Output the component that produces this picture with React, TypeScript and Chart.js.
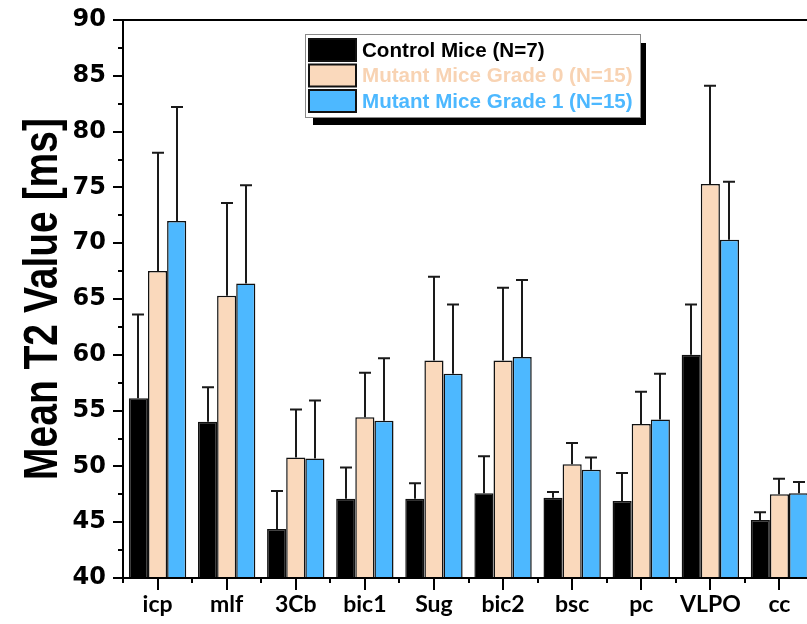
import { useEffect, useRef } from 'react';
import { Chart, registerables } from 'chart.js';
Chart.register(...registerables);

const categories = ['icp', 'mlf', '3Cb', 'bic1', 'Sug', 'bic2', 'bsc', 'pc', 'VLPO', 'cc'];
const seriesLabels = ['Control Mice (N=7)', 'Mutant Mice Grade 0 (N=15)', 'Mutant Mice Grade 1 (N=15)'];
const controlMean = [56.1, 54.0, 44.4, 47.1, 47.1, 47.6, 47.2, 46.9, 60.0, 45.2];
const controlSD = [7.5, 3.1, 3.4, 2.8, 1.4, 3.3, 0.5, 2.5, 4.5, 0.7];
const grade0Mean = [67.5, 65.3, 50.8, 54.4, 59.5, 59.5, 50.2, 53.8, 75.3, 47.5];
const grade0SD = [10.6, 8.3, 4.3, 4.0, 7.5, 6.5, 1.9, 2.9, 8.8, 1.4];
const grade1Mean = [72.0, 66.4, 50.7, 54.1, 58.3, 59.8, 49.7, 54.2, 70.3, 47.6];
const grade1SD = [10.2, 8.8, 5.2, 5.6, 6.2, 6.9, 1.1, 4.1, 5.2, 1.0];
const yTitle = 'Mean T2 Value [ms]';
const yMin = 40;
const yMax = 90;
const yStep = 5;

const fills = ['#000000', '#FAD9BC', '#4DB8FF'];
const textColors = ['#000000', '#F8D3B3', '#4DB8FF'];

const decorPlugin = {
  id: 'decor',
  afterDatasetsDraw(chart: any) {
    const ctx = chart.ctx;
    const ys = chart.scales.y;
    ctx.save();
    ctx.strokeStyle = '#1a1a1a';
    ctx.lineWidth = 2;
    chart.data.datasets.forEach((ds: any, i: number) => {
      const meta = chart.getDatasetMeta(i);
      meta.data.forEach((bar: any, j: number) => {
        const top = ys.getPixelForValue(ds.data[j] + ds.errors[j]);
        const x = Math.round(bar.x);
        ctx.beginPath();
        ctx.moveTo(x, bar.y);
        ctx.lineTo(x, top);
        ctx.moveTo(x - 6, top);
        ctx.lineTo(x + 6, top);
        ctx.stroke();
      });
    });
    ctx.restore();
  },
  afterDraw(chart: any) {
    const ctx = chart.ctx;
    const { left, right, top, bottom } = chart.chartArea;
    const xs = chart.scales.x;
    const ys = chart.scales.y;
    ctx.save();
    ctx.strokeStyle = '#000';
    ctx.lineWidth = 2;
    // frame
    ctx.beginPath();
    ctx.moveTo(left, top);
    ctx.lineTo(right, top);
    ctx.lineTo(right, bottom);
    ctx.lineTo(left, bottom);
    ctx.closePath();
    ctx.stroke();
    // y ticks
    ctx.beginPath();
    for (let v = yMin; v <= yMax + 0.001; v += yStep / 2) {
      const y = Math.round(ys.getPixelForValue(v));
      const major = Math.abs(v / yStep - Math.round(v / yStep)) < 0.001;
      ctx.moveTo(left, y);
      ctx.lineTo(left - (major ? 10 : 5), y);
    }
    // x ticks
    const n = categories.length;
    const cw = (right - left) / n;
    for (let i = 0; i < n; i++) {
      const x = Math.round(xs.getPixelForValue(i));
      ctx.moveTo(x, bottom);
      ctx.lineTo(x, bottom + 12);
    }
    for (let k = 0; k <= n; k++) {
      const x = Math.round(left + k * cw);
      ctx.moveTo(x, bottom);
      ctx.lineTo(x, bottom + 5);
    }
    ctx.stroke();

    // y title
    ctx.save();
    ctx.translate(57, (top + bottom) / 2);
    ctx.scale(1.22, 1);
    ctx.rotate(-Math.PI / 2);
    ctx.fillStyle = '#000';
    ctx.font = 'bold 39px "Liberation Sans", Arial, sans-serif';
    ctx.textAlign = 'center';
    ctx.textBaseline = 'alphabetic';
    ctx.fillText(yTitle, 0, 0);
    ctx.restore();

    // legend
    const bx = 305, by = 34, bw = 335, bh = 83;
    ctx.fillStyle = '#000';
    ctx.fillRect(bx + 8, by + 9, bw - 2, bh - 1);
    ctx.fillStyle = '#fff';
    ctx.fillRect(bx, by, bw, bh);
    ctx.strokeStyle = '#8a8a8a';
    ctx.lineWidth = 1;
    ctx.strokeRect(bx + 0.5, by + 0.5, bw, bh);
    ctx.font = 'bold 20.6px "Liberation Sans", Arial, sans-serif';
    ctx.textBaseline = 'middle';
    ctx.textAlign = 'left';
    chart.data.datasets.forEach((ds: any, i: number) => {
      const ry = by + 5 + i * 25.5;
      ctx.fillStyle = ds.backgroundColor;
      ctx.fillRect(bx + 4, ry, 47, 22);
      ctx.strokeStyle = '#111';
      ctx.lineWidth = 2;
      ctx.strokeRect(bx + 4, ry, 47, 22);
      ctx.fillStyle = textColors[i];
      ctx.fillText(ds.label, bx + 57, ry + 12);
    });
    ctx.restore();
  },
};

export default function App() {
  const ref = useRef<HTMLCanvasElement>(null);
  useEffect(() => {
    const means = [controlMean, grade0Mean, grade1Mean];
    const sds = [controlSD, grade0SD, grade1SD];
    const chart = new Chart(ref.current as HTMLCanvasElement, {
      type: 'bar',
      data: {
        labels: categories,
        datasets: means.map((m, i) => ({
          label: seriesLabels[i],
          data: m,
          errors: sds[i],
          backgroundColor: fills[i],
          borderColor: '#111111',
          borderWidth: 1.5,
          borderSkipped: false,
          categoryPercentage: 0.83,
          barPercentage: 1.0,
        })) as any,
      },
      options: {
        responsive: false,
        animation: false,
        devicePixelRatio: 1,
        layout: { padding: { top: 20, right: 16, left: 0, bottom: 0 } },
        plugins: {
          legend: { display: false },
          tooltip: { enabled: false },
        },
        scales: {
          x: {
            grid: { display: false, drawTicks: false },
            border: { display: false },
            ticks: {
              color: '#000',
              font: { family: 'Lato', weight: 'bold', size: 23 },
              padding: 13,
              maxRotation: 0,
              autoSkip: false,
            },
            afterFit: (s: any) => {
              s.height = 46;
              s.paddingLeft = 0;
              s.paddingRight = 0;
            },
          },
          y: {
            min: yMin,
            max: yMax,
            grid: { display: false, drawTicks: false },
            border: { display: false },
            ticks: {
              stepSize: yStep,
              color: '#000',
              font: { family: 'DejaVu Sans', weight: 'bold', size: 24 },
              padding: 17,
            },
            afterFit: (s: any) => {
              s.width = 123;
              s.paddingTop = 0;
              s.paddingBottom = 0;
            },
          },
        },
      },
      plugins: [decorPlugin],
    });
    return () => chart.destroy();
  }, []);
  return (
    <div
      style={{
        position: 'fixed',
        left: 0,
        top: 0,
        width: 807,
        height: 624,
        overflow: 'hidden',
        background: '#fff',
      }}
    >
      <canvas ref={ref} width={830} height={624} style={{ display: 'block' }} />
    </div>
  );
}
